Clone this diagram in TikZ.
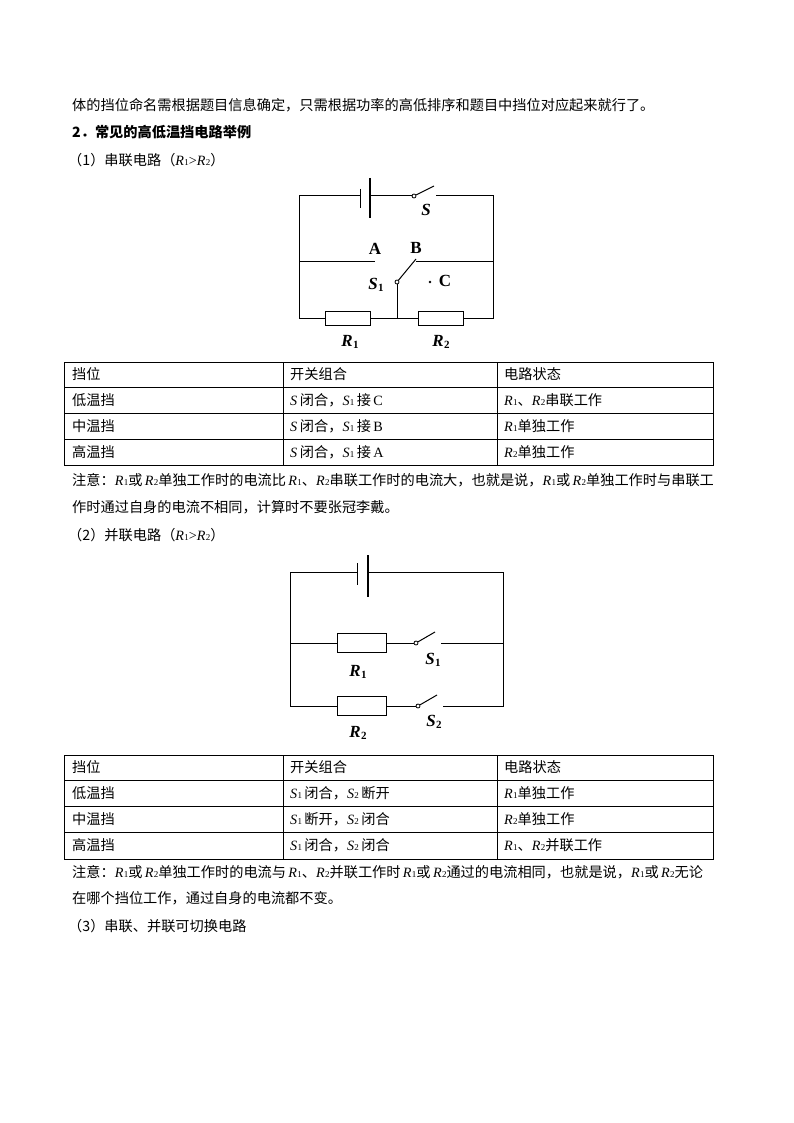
\documentclass[tikz,border=0pt]{standalone}
\usepackage{fontspec}
\setmainfont{Liberation Serif}
\newfontfamily\cjk{Noto Sans CJK SC}
\newcommand{\V}[2]{{\rmfamily\itshape #1}\kern0.3pt{\rmfamily\upshape\fontsize{9}{9}\selectfont #2}}
\newcommand{\BV}[2]{{\rmfamily\bfseries\itshape #1}\kern0.5pt\raisebox{-2pt}{\rmfamily\fontsize{11}{11}\selectfont\bfseries #2}}
\begin{document}
\begin{tikzpicture}[x=1pt,y=-1pt,
  txt/.style={anchor=west,inner sep=0pt,font=\fontsize{14.2}{14}\selectfont\cjk},
  lab/.style={inner sep=0pt,font=\fontsize{17}{17}\selectfont},
  wire/.style={line width=1pt},
  res/.style={draw,line width=1pt,fill=white,minimum width=45pt,minimum height=14pt,inner sep=0pt},
  pivot/.style={circle,draw,line width=0.8pt,fill=white,minimum size=4pt,inner sep=0pt}]
\useasboundingbox (0,0) rectangle (794,1123);
\node[txt] (t1) at (72,105) {体的挡位命名需根据题目信息确定，只需根据功率的高低排序和题目中挡位对应起来就行了。};
\node[txt,font=\fontsize{14.2}{14}\selectfont\cjk\bfseries] (t2) at (72,132) {2．常见的高低温挡电路举例};
\node[txt] (t3) at (68,160) {（1）串联电路（\V{R}{1}{\rmfamily >}\V{R}{2}）};
% circuit 1
\coordinate (a1) at (299,196); \coordinate (a2) at (493,196);
\coordinate (b1) at (299,318); \coordinate (b2) at (493,318);
\coordinate (bm) at (397,318);
\node[res] (r1) at (348,318) {};
\node[res] (r2) at (441,318) {};
\node[pivot] (ps) at (414,196) {};
\node[pivot] (p1) at (397,282) {};
\coordinate (bs) at (360,196); \coordinate (bl) at (370,196);
\draw[wire] (bs) -- (a1) -- (b1) -- (r1.west);
\draw[wire] (r1.east) -- (r2.west);
\draw[wire] (r2.east) -- (b2) -- (a2) -- (436,196);
\draw[wire] (bl) -- (ps.west);
\draw[wire] (ps) -- (434,186);
\draw[wire] (360,189) -- (360,208);
\draw[line width=1.6pt] (370,178) -- (370,218);
\draw[wire] (299,261) -- (375,261);
\draw[wire] (416,261) -- (493,261);
\draw[wire] (p1.south) -- (bm);
\draw[wire] (p1) -- (416,259);
\fill (430,282) circle (1.3pt);
\node[lab] (lS) at (426,210) {\textbf{\textit{S}}};
\node[lab] (lA) at (375,249) {\textbf{A}};
\node[lab] (lB) at (416,248) {\textbf{B}};
\node[lab] (lC) at (445,281) {\textbf{C}};
\node[lab] (lS1) at (376,285) {\BV{S}{1}};
\node[lab] (lR1) at (350,342) {\BV{R}{1}};
\node[lab] (lR2) at (441,342) {\BV{R}{2}};
% table 1
\draw[line width=0.8pt] (64,362) rectangle (713,465);
\foreach \y in {387,413,439} \draw[line width=0.6pt] (64,\y) -- (713,\y);
\foreach \x in {283,497} \draw[line width=0.6pt] (\x,362) -- (\x,465);
\node[txt] (c11) at (72,374) {挡位};
\node[txt] (c12) at (290,374) {开关组合};
\node[txt] (c13) at (504,374) {电路状态};
\node[txt] (c21) at (72,400) {低温挡};
\node[txt] (c22) at (290,400) {\V{S}{}\,闭合，\V{S}{1}\,接\,{\rmfamily C}};
\node[txt] (c23) at (504,400) {\V{R}{1}、\V{R}{2}串联工作};
\node[txt] (c31) at (72,426) {中温挡};
\node[txt] (c32) at (290,426) {\V{S}{}\,闭合，\V{S}{1}\,接\,{\rmfamily B}};
\node[txt] (c33) at (504,426) {\V{R}{1}单独工作};
\node[txt] (c41) at (72,452) {高温挡};
\node[txt] (c42) at (290,452) {\V{S}{}\,闭合，\V{S}{1}\,接\,{\rmfamily A}};
\node[txt] (c43) at (504,452) {\V{R}{2}单独工作};
\node[txt] (n1) at (72,480) {注意：\V{R}{1}或\,\V{R}{2}单独工作时的电流比\,\V{R}{1}、\V{R}{2}串联工作时的电流大，也就是说，\V{R}{1}或\,\V{R}{2}单独工作时与串联工};
\node[txt] (n2) at (72,507) {作时通过自身的电流不相同，计算时不要张冠李戴。};
\node[txt] (t4) at (68,535) {（2）并联电路（\V{R}{1}{\rmfamily >}\V{R}{2}）};
% circuit 2
\coordinate (e1) at (290,572); \coordinate (e2) at (503,572);
\coordinate (f1) at (290,643); \coordinate (f2) at (503,643);
\coordinate (g1) at (290,706); \coordinate (g2) at (503,706);
\node[res,minimum width=49pt,minimum height=19pt] (q1) at (362,643) {};
\node[res,minimum width=49pt,minimum height=19pt] (q2) at (362,706) {};
\node[pivot] (s1) at (416,643) {};
\node[pivot] (s2) at (418,706) {};
\draw[wire] (357,572) -- (e1) -- (g1) -- (q2.west);
\draw[wire] (368,572) -- (e2) -- (g2) -- (443,706);
\draw[wire] (f1) -- (q1.west); \draw[wire] (q1.east) -- (s1.west);
\draw[wire] (q2.east) -- (s2.west);
\draw[wire] (441,643) -- (f2);
\draw[wire] (s1) -- (435,632);
\draw[wire] (s2) -- (437,695);
\draw[wire] (357,563) -- (357,585);
\draw[line width=1.6pt] (368,555) -- (368,597);
\node[lab] (m1) at (358,672) {\BV{R}{1}};
\node[lab] (m2) at (358,733) {\BV{R}{2}};
\node[lab] (m3) at (433,660) {\BV{S}{1}};
\node[lab] (m4) at (434,722) {\BV{S}{2}};
% table 2
\draw[line width=0.8pt] (64,755) rectangle (713,859);
\foreach \y in {780,806,832} \draw[line width=0.6pt] (64,\y) -- (713,\y);
\foreach \x in {283,497} \draw[line width=0.6pt] (\x,755) -- (\x,859);
\node[txt] (d11) at (72,767) {挡位};
\node[txt] (d12) at (290,767) {开关组合};
\node[txt] (d13) at (504,767) {电路状态};
\node[txt] (d21) at (72,793) {低温挡};
\node[txt] (d22) at (290,793) {\V{S}{1}\,闭合，\V{S}{2}\,断开};
\node[txt] (d23) at (504,793) {\V{R}{1}单独工作};
\node[txt] (d31) at (72,819) {中温挡};
\node[txt] (d32) at (290,819) {\V{S}{1}\,断开，\V{S}{2}\,闭合};
\node[txt] (d33) at (504,819) {\V{R}{2}单独工作};
\node[txt] (d41) at (72,845) {高温挡};
\node[txt] (d42) at (290,845) {\V{S}{1}\,闭合，\V{S}{2}\,闭合};
\node[txt] (d43) at (504,845) {\V{R}{1}、\V{R}{2}并联工作};
\node[txt] (o1) at (72,872) {注意：\V{R}{1}或\,\V{R}{2}单独工作时的电流与\,\V{R}{1}、\V{R}{2}并联工作时\,\V{R}{1}或\,\V{R}{2}通过的电流相同，也就是说，\V{R}{1}或\,\V{R}{2}无论};
\node[txt] (o2) at (72,898) {在哪个挡位工作，通过自身的电流都不变。};
\node[txt] (t5) at (68,926) {（3）串联、并联可切换电路};
\end{tikzpicture}
\end{document}
